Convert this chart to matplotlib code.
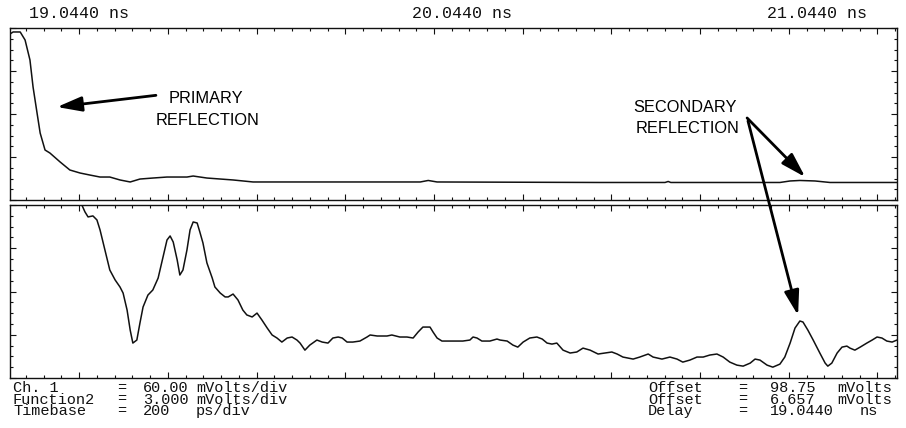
import matplotlib
matplotlib.use("Agg")
import matplotlib.pyplot as plt
from matplotlib.patches import ConnectionPatch
from matplotlib.ticker import MultipleLocator

# Scope settings
DELAY = 19.0440        # ns, left edge of screen
TIMEBASE = 0.2         # ns/div
CH1_SCALE = 60.0       # mV/div
CH1_OFFSET = 98.75     # mV
F2_SCALE = 3.0         # mV/div
F2_OFFSET = 6.657      # mV

# Channel 1: reflected step (time in ns, level in mV)
ch1_t = [19.044, 19.051, 19.067, 19.078, 19.089, 19.096, 19.105, 19.112, 19.123,
         19.134, 19.157, 19.179, 19.202, 19.224, 19.247, 19.269, 19.292, 19.315,
         19.337, 19.366, 19.398, 19.443, 19.457, 19.488, 19.547, 19.592, 19.698,
         19.969, 19.987, 20.007, 20.374, 20.521, 20.528, 20.534, 20.780, 20.803,
         20.825, 20.859, 20.893, 21.044]
ch1_mv = [210.4, 213.2, 213.2, 202.0, 174.1, 136.4, 100.1, 72.2, 48.5,
          44.3, 31.8, 20.6, 16.4, 13.6, 10.8, 10.8, 6.7, 3.9,
          8.0, 9.4, 10.8, 10.8, 12.2, 9.4, 6.7, 3.9, 3.9,
          3.9, 6.0, 3.9, 3.2, 3.2, 4.6, 3.2, 3.2, 5.3,
          6.0, 5.3, 3.2, 3.2]

# Function2: magnified view of the same trace (time in ns, level in mV)
f2_t = [19.044, 19.206, 19.213, 19.220, 19.231, 19.240, 19.247, 19.258, 19.269,
        19.281, 19.292, 19.299, 19.308, 19.315, 19.321, 19.330, 19.337, 19.344,
        19.355, 19.366, 19.378, 19.389, 19.398, 19.405, 19.412, 19.421, 19.427,
        19.434, 19.443, 19.450, 19.457, 19.466, 19.472, 19.479, 19.488, 19.500,
        19.506, 19.518, 19.529, 19.536, 19.547, 19.558, 19.569, 19.578, 19.590,
        19.601, 19.612, 19.624, 19.635, 19.646, 19.657, 19.669, 19.680, 19.691,
        19.698, 19.709, 19.720, 19.736, 19.748, 19.761, 19.772, 19.784, 19.793,
        19.804, 19.817, 19.833, 19.849, 19.856, 19.872, 19.894, 19.905, 19.923,
        19.939, 19.953, 19.964, 19.975, 19.991, 19.998, 20.007, 20.018, 20.043,
        20.065, 20.081, 20.088, 20.097, 20.108, 20.126, 20.142, 20.149, 20.165,
        20.178, 20.189, 20.201, 20.216, 20.232, 20.244, 20.255, 20.266, 20.277,
        20.291, 20.307, 20.322, 20.336, 20.352, 20.370, 20.386, 20.401, 20.413,
        20.426, 20.449, 20.464, 20.483, 20.494, 20.514, 20.532, 20.548, 20.561,
        20.577, 20.593, 20.607, 20.622, 20.638, 20.652, 20.667, 20.683, 20.697,
        20.713, 20.724, 20.735, 20.751, 20.764, 20.780, 20.791, 20.803, 20.814,
        20.825, 20.832, 20.843, 20.855, 20.870, 20.882, 20.888, 20.897, 20.909,
        20.920, 20.931, 20.938, 20.949, 20.961, 20.976, 20.988, 20.999, 21.010,
        21.021, 21.033, 21.044]
f2_mv = [12.66, 12.66, 12.18, 11.83, 11.90, 11.62, 10.93, 9.54, 8.15,
         7.46, 6.97, 6.55, 5.37, 3.98, 3.08, 3.29, 4.47, 5.58,
         6.41, 6.76, 7.59, 9.05, 10.23, 10.51, 10.09, 8.84, 7.80,
         8.15, 9.54, 10.93, 11.48, 11.41, 10.79, 10.03, 8.64, 7.59,
         6.97, 6.55, 6.28, 6.28, 6.48, 6.07, 5.37, 5.03, 4.89,
         5.16, 4.68, 4.12, 3.64, 3.43, 3.15, 3.43, 3.50, 3.29,
         3.08, 2.59, 2.94, 3.29, 3.15, 3.08, 3.43, 3.50, 3.43,
         3.15, 3.15, 3.22, 3.50, 3.64, 3.57, 3.57, 3.64, 3.50,
         3.50, 3.43, 3.84, 4.19, 4.19, 3.84, 3.43, 3.22, 3.22,
         3.22, 3.29, 3.50, 3.43, 3.22, 3.22, 3.36, 3.29, 3.22,
         2.94, 2.80, 3.15, 3.43, 3.50, 3.36, 3.08, 3.01, 3.08,
         2.59, 2.39, 2.46, 2.73, 2.59, 2.32, 2.39, 2.46, 2.32,
         2.11, 1.97, 2.11, 2.32, 2.11, 1.97, 2.11, 1.97, 1.76,
         1.90, 2.11, 2.11, 2.25, 2.32, 2.11, 1.76, 1.55, 1.48,
         1.69, 1.97, 1.90, 1.55, 1.41, 1.62, 2.11, 3.08, 4.12,
         4.61, 4.54, 3.98, 3.29, 2.39, 1.69, 1.48, 1.69, 2.39,
         2.80, 2.87, 2.73, 2.59, 2.80, 3.08, 3.29, 3.50, 3.43,
         3.22, 3.15, 3.29]

time_labels = ["19.0440 ns", "20.0440 ns", "21.0440 ns"]
left_names = ["Ch. 1", "Function2", "Timebase"]
left_values = ["60.00", "3.000", "200"]
left_units = ["mVolts/div", "mVolts/div", "ps/div"]
right_names = ["Offset", "Offset", "Delay"]
right_values = ["98.75", "6.657", "19.0440"]
right_units = ["mVolts", "mVolts", "ns"]

W, H = 906, 428
fig = plt.figure(figsize=(W / 100, H / 100), dpi=100)


def fx(x):
    return x / W


def fy(y):
    return 1 - y / H


ink = "#111111"
mono = "Liberation Mono"

ax1 = fig.add_axes([fx(10), fy(200), fx(887), 172 / H])
ax2 = fig.add_axes([fx(10), fy(378), fx(887), 173 / H])


def graticule(ax, offset, scale):
    ax.set_xlim(DELAY, DELAY + 10 * TIMEBASE)
    ax.set_ylim(offset - 2 * scale, offset + 2 * scale)
    ax.xaxis.set_major_locator(MultipleLocator(TIMEBASE))
    ax.xaxis.set_minor_locator(MultipleLocator(TIMEBASE / 5))
    ax.set_yticks([offset + k * scale for k in range(-2, 3)])
    ax.set_yticks([offset + k * scale / 4 for k in range(-8, 9)], minor=True)
    ax.tick_params(which="both", direction="in", top=True, right=True,
                   labelbottom=False, labelleft=False, color=ink, width=0.8)
    ax.tick_params(which="major", length=4.5)
    ax.tick_params(which="minor", length=2.2)
    for s in ax.spines.values():
        s.set_linewidth(1.0)
        s.set_color(ink)


graticule(ax1, CH1_OFFSET, CH1_SCALE)
graticule(ax2, F2_OFFSET, F2_SCALE)

ax1.plot(ch1_t, ch1_mv, color=ink, lw=1.1)
ax2.plot(f2_t, f2_mv, color=ink, lw=1.1)

# time readouts along the top
fig.text(fx(29), fy(13), time_labels[0], ha="left", va="center",
         family=mono, fontsize=12, color=ink)
fig.text(fx(462), fy(13), time_labels[1], ha="center", va="center",
         family=mono, fontsize=12, color=ink)
fig.text(fx(867), fy(13), time_labels[2], ha="right", va="center",
         family=mono, fontsize=12, color=ink)


# setup readouts under the screen
def readout(x, y, s, ha="left"):
    fig.text(fx(x), fy(y), s, ha=ha, va="center", family=mono,
             fontsize=11, color=ink)


rows_y = [388, 399.5, 411]
for i, y in enumerate(rows_y):
    readout(13, y, left_names[i])
    readout(122, y, "=", ha="center")
    readout(143, y, left_values[i])
    readout(196, y, left_units[i])
    readout(648, y, right_names[i])
    readout(743, y, "=", ha="center")
    readout(770, y, right_values[i])
    readout(837 if right_units[i] == "mVolts" else 860, y, right_units[i])

# callouts
sans = "Liberation Sans"
ax1.text(19.4865, 120.0, "PRIMARY", ha="center", va="center", family=sans, fontsize=11.8, color="black")
ax1.text(19.4900, 89.0, "REFLECTION", ha="center", va="center", family=sans, fontsize=11.8, color="black")
ax1.text(20.5670, 108.0, "SECONDARY", ha="center", va="center", family=sans, fontsize=11.8, color="black")
ax1.text(20.5710, 79.0, "REFLECTION", ha="center", va="center", family=sans, fontsize=11.8, color="black")

arrow_style = "-|>,head_length=1.5,head_width=0.45"
arrows = [
    ((19.3730, 124.8), ax1, (19.1500, 108.5), ax1),
    ((20.7060, 93.2), ax1, (20.8370, 10.8), ax1),
    ((20.7080, 89.0), ax1, (20.8210, 5.0), ax2),
]
for (xa, ya), axa, (xb, yb), axb in arrows:
    cp = ConnectionPatch(xyA=(xa, ya), coordsA=axa.transData,
                         xyB=(xb, yb), coordsB=axb.transData,
                         arrowstyle=arrow_style, mutation_scale=10,
                         shrinkA=0, shrinkB=0, lw=2.0, color="black")
    fig.add_artist(cp)

fig.savefig("out.png", dpi=100, facecolor="white")
